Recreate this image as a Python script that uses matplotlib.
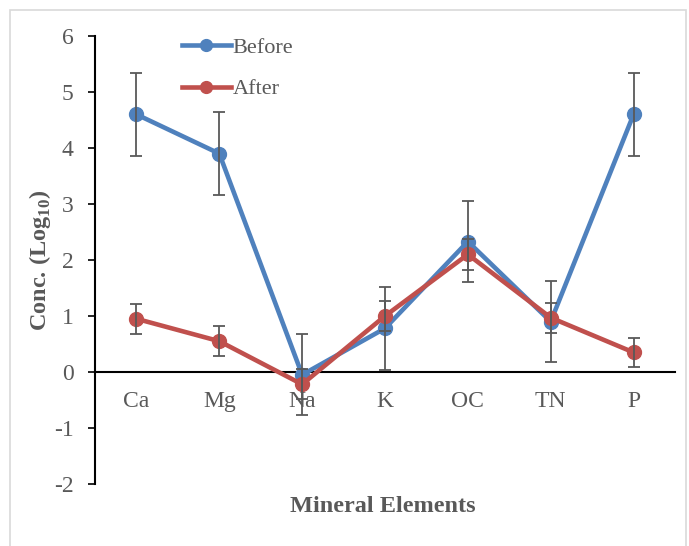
import matplotlib.pyplot as plt
from matplotlib.patches import Rectangle

plt.rcParams['font.family'] = ['Liberation Serif', 'DejaVu Serif']
plt.rcParams['mathtext.fontset'] = 'custom'
plt.rcParams['mathtext.rm'] = 'Liberation Serif'
plt.rcParams['mathtext.bf'] = 'Liberation Serif:bold'
plt.rcParams['axes.unicode_minus'] = False

elements = ['Ca', 'Mg', 'Na', 'K', 'OC', 'TN', 'P']
before = [4.6, 3.9, -0.05, 0.78, 2.33, 0.9, 4.6]
after = [0.95, 0.55, -0.22, 1.0, 2.1, 0.97, 0.35]
before_err = [0.74, 0.74, 0.72, 0.74, 0.73, 0.73, 0.74]
after_err = [0.27, 0.27, 0.27, 0.27, 0.27, 0.27, 0.26]

blue = '#4F81BD'
red = '#C0504D'
grey = '#595959'

fig = plt.figure(figsize=(6.89, 5.46), dpi=100)
ax = fig.add_axes([95 / 689, 62 / 546, 580 / 689, 448 / 546])

x = list(range(len(elements)))
ax.errorbar(x, before, yerr=before_err, fmt='none', ecolor=grey, elinewidth=1.3,
            capsize=4.5, capthick=1.3, zorder=4)
ax.errorbar(x, after, yerr=after_err, fmt='none', ecolor=grey, elinewidth=1.3,
            capsize=4.5, capthick=1.3, zorder=4)
ax.plot(x, before, color=blue, lw=3.3, marker='o', ms=10, label='Before', zorder=3)
ax.plot(x, after, color=red, lw=3.3, marker='o', ms=10, label='After', zorder=3)

ax.set_xlim(-0.5, 6.5)
ax.set_ylim(-2, 6)
ax.set_yticks(range(-2, 7))
ax.set_xticks(x)
ax.set_xticklabels(elements)

for s in ['top', 'right']:
    ax.spines[s].set_visible(False)
ax.spines['bottom'].set_position(('data', 0))
ax.spines['bottom'].set_linewidth(1.5)
ax.spines['left'].set_linewidth(1.5)
ax.tick_params(axis='x', length=0, pad=14, labelsize=17, labelcolor=grey)
ax.tick_params(axis='y', direction='out', length=5, width=1.2, pad=10.5,
               labelsize=17, labelcolor=grey)

ax.set_ylabel(r'Conc. (Log$_{\mathbf{10}}$)', fontsize=17.5, fontweight='bold',
              color=grey)
ax.yaxis.set_label_coords(-0.073, 0.5)
fig.text(383 / 689, 1 - 506 / 546, 'Mineral Elements', fontsize=17.5,
         fontweight='bold', color=grey, ha='center', va='center')

ax.legend(loc='upper left', bbox_to_anchor=(0.115, 1.042), frameon=False,
          fontsize=16, handlelength=2.2, labelspacing=0.95, handletextpad=0.1,
          labelcolor=grey, markerscale=0.85)

fig.patches.append(Rectangle((10 / 689, -0.02), 676 / 689, 1 - 10 / 546 + 0.02,
                             transform=fig.transFigure, fill=False,
                             edgecolor='#D9D9D9', lw=1.2))

fig.savefig('out.png', dpi=100)
